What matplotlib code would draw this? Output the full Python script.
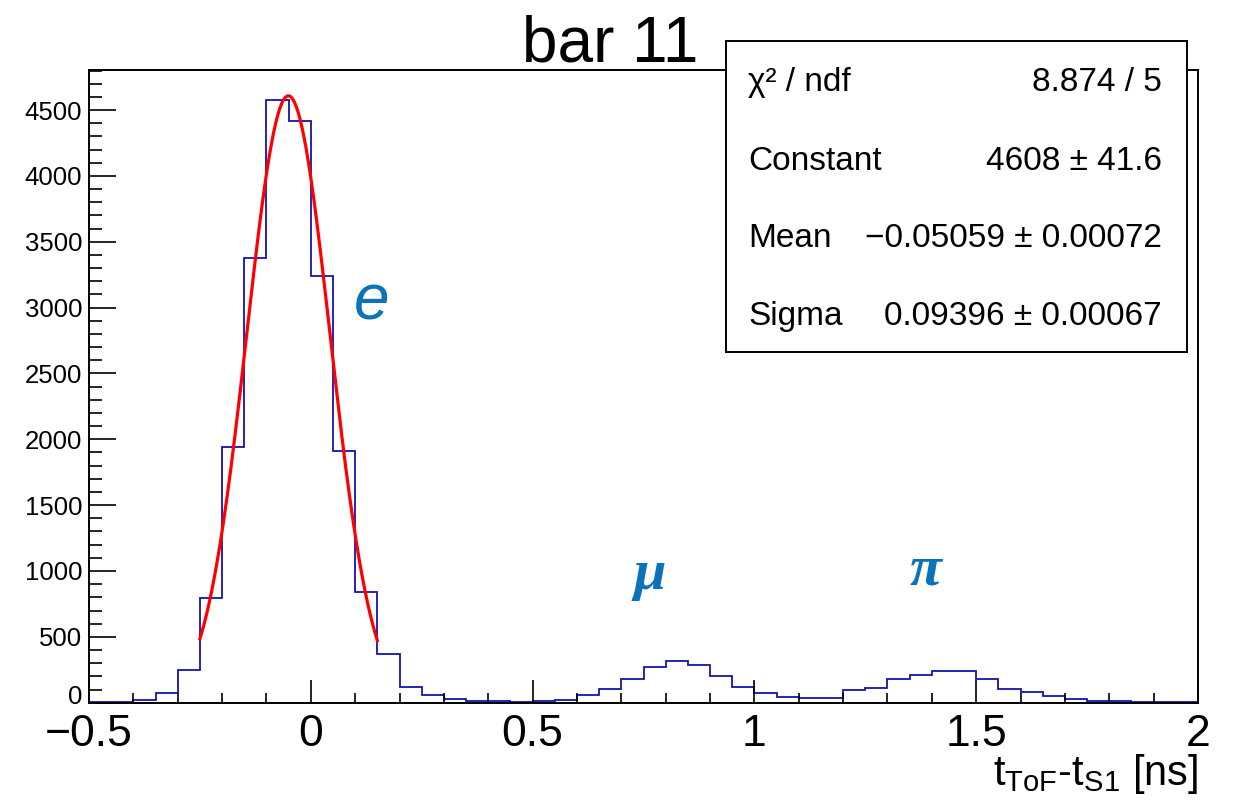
import numpy as np
import matplotlib
matplotlib.use("Agg")
import matplotlib.pyplot as plt
import matplotlib.transforms as mtransforms

plt.rcParams['font.family'] = ['Liberation Sans', 'DejaVu Sans']
plt.rcParams['mathtext.fontset'] = 'custom'
plt.rcParams['mathtext.rm'] = 'Liberation Sans'
plt.rcParams['mathtext.it'] = 'Liberation Sans:italic'

# histogram: 50 bins of 0.05 ns from -0.5 to 2.0
bin_lo, bin_hi, n_bins = -0.5, 2.0, 50
counts = [3, 2, 18, 71, 251, 795, 1939, 3374, 4576, 4419,
          3242, 1911, 843, 370, 121, 56, 30, 11, 15, 8,
          15, 23, 58, 104, 182, 273, 319, 286, 205, 121,
          74, 41, 36, 36, 96, 109, 178, 210, 243, 241,
          182, 106, 81, 51, 26, 13, 10, 8, 6, 4]

# gaussian fit (from the stat box)
fit_const, fit_mean, fit_sigma = 4608, -0.05059, 0.09396
fit_lo, fit_hi = -0.25, 0.15
stat_names = ['χ² / ndf', 'Constant', 'Mean', 'Sigma']
stat_values = ['8.874 / 5', '4608 ± 41.6', '\u22120.05059 ± 0.00072', '0.09396 ± 0.00067']

peak_labels = ['e', 'μ', 'π']
peak_x = [0.136, 0.764, 1.386]
peak_y = [3035, 970, 1007]

W, H = 1234, 808
fig = plt.figure(figsize=(W / 100, H / 100), dpi=100)
ax = fig.add_axes([89 / W, 1 - 702.7 / H, (1198 - 89) / W, (702.7 - 70) / H])

edges = np.linspace(bin_lo, bin_hi, n_bins + 1)
ax.stairs(counts, edges, color='#1414b0', lw=1.3)

xf = np.linspace(fit_lo, fit_hi, 300)
ax.plot(xf, fit_const * np.exp(-0.5 * ((xf - fit_mean) / fit_sigma) ** 2), color='red', lw=2.3)

ax.set_xlim(bin_lo, bin_hi)
ax.set_ylim(0, 4804)
ax.set_xticks(np.arange(-0.5, 2.01, 0.5))
ax.set_xticks(np.arange(-0.5, 2.01, 0.1), minor=True)
ax.set_xticklabels(['\u22120.5', '0', '0.5', '1', '1.5', '2'])
ax.set_yticks(np.arange(0, 4501, 500))
ax.set_yticks(np.arange(0, 4801, 100), minor=True)
ax.tick_params(axis='x', which='major', direction='in', length=16.5, width=1.2, labelsize=32, pad=8)
ax.tick_params(axis='x', which='minor', direction='in', length=7.5, width=1.2)
ax.tick_params(axis='y', which='major', direction='in', length=19.5, width=1.2, labelsize=18.5, pad=5)
ax.tick_params(axis='y', which='minor', direction='in', length=9.5, width=1.2)
for s in ax.spines.values():
    s.set_linewidth(1.4)

# lift the "0" label a little so it sits just above the -0.5 label
zero_lab = ax.yaxis.get_major_ticks()[0].label1
zero_lab.set_transform(zero_lab.get_transform() + mtransforms.ScaledTranslation(0, 6 / 72, fig.dpi_scale_trans))

for lab, x, y in zip(peak_labels, peak_x, peak_y):
    if lab == 'e':
        ax.text(x, y, lab, color='#0a73b9', fontsize=46, style='italic', ha='center', va='center')
    else:
        ax.text(x, y, lab, color='#0a73b9', fontsize=42, style='italic', weight='bold',
                family='Liberation Serif', ha='center', va='center')

fig.text(610 / W, 1 - 62 / H, 'bar 11', fontsize=46, ha='center', va='baseline')
fig.text(1198 / W, 1 - 785 / H, r'$\mathrm{t_{ToF}}$-$\mathrm{t_{S1}}$ [ns]', fontsize=30,
         ha='right', va='baseline')

# stat box
bx = fig.add_axes([726 / W, 1 - 352 / H, (1187 - 726) / W, (352 - 41) / H])
bx.set_xticks([])
bx.set_yticks([])
bx.set_xlim(0, 1)
bx.set_ylim(0, 1)
for s in bx.spines.values():
    s.set_linewidth(1.4)
row_y = [0.839, 0.585, 0.338, 0.087]
for name, val, y in zip(stat_names, stat_values, row_y):
    bx.text(0.048, y, name, fontsize=24, ha='left', va='baseline')
    bx.text(0.946, y, val, fontsize=24, ha='right', va='baseline')

fig.savefig('out.png', dpi=100)
